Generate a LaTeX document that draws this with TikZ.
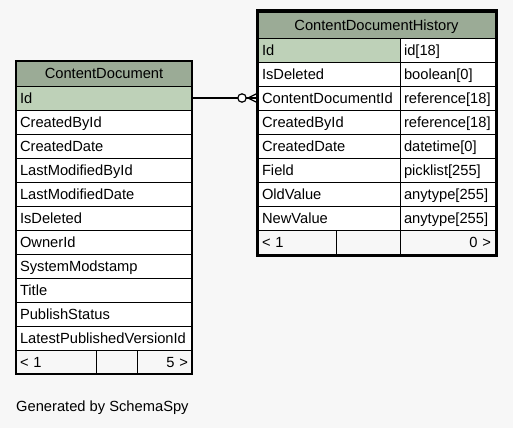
\documentclass[tikz,border=0pt]{standalone}
\usepackage{fontspec}
\setmainfont{Liberation Sans}
\usepackage{xcolor}
\definecolor{headgreen}{HTML}{9BAB96}
\definecolor{keygreen}{HTML}{BED1B8}
\definecolor{bggray}{HTML}{F7F7F7}

\begin{document}
\begin{tikzpicture}[x=1pt,y=-1pt,
    every node/.style={font=\fontsize{14.7}{17}\selectfont},
    cell/.style={draw=black,fill=white,anchor=north west,minimum height=24pt,
      inner xsep=4pt,inner ysep=0pt,outer sep=0pt,align=left,text depth=0pt},
    keycell/.style={cell,fill=keygreen},
    headcell/.style={cell,fill=headgreen,align=center,minimum height=25pt},
    footcell/.style={cell,fill=bggray}]
  \useasboundingbox[fill=bggray] (0,0) rectangle (513,428);

  % ContentDocument
  \node[headcell,text width=168pt] (cd-head) at (16,61) {ContentDocument};
  \node[keycell,text width=168pt] (cd-id) at (16,86) {Id};
  \foreach \f [count=\i] in {CreatedById,CreatedDate,LastModifiedById,
      LastModifiedDate,IsDeleted,OwnerId,SystemModstamp,Title,PublishStatus,
      LatestPublishedVersionId}
    \node[cell,text width=168pt] (cd-\i) at (16,86+24*\i) {\f};
  \node[footcell,text width=72pt] (cd-foot1) at (16,350) {< 1};
  \node[footcell,text width=33pt] (cd-foot2) at (96,350) {};
  \node[footcell,text width=47pt,align=right] (cd-foot3) at (137,350) {5 >};
  \draw[line width=1.5pt] (cd-head.north west) rectangle (cd-foot3.south east);

  % ContentDocumentHistory
  \node[headcell,text width=229pt,minimum height=26pt] (cdh-head) at (258,12) {ContentDocumentHistory};
  \node[keycell,text width=134pt] (cdh-id) at (258,38) {Id};
  \node[cell,text width=87pt] (cdh-idt) at (400,38) {id[18]};
  \foreach \f/\t [count=\i] in {IsDeleted/{boolean[0]},
      ContentDocumentId/{reference[18]},CreatedById/{reference[18]},
      CreatedDate/{datetime[0]},Field/{picklist[255]},OldValue/{anytype[255]},
      NewValue/{anytype[255]}}
  {
    \node[cell,text width=134pt] (cdh-\i) at (258,38+24*\i) {\f};
    \node[cell,text width=87pt] (cdh-\i t) at (400,38+24*\i) {\t};
  }
  \node[footcell,text width=70pt] (cdh-foot1) at (258,230) {< 1};
  \node[footcell,text width=56pt] (cdh-foot2) at (336,230) {};
  \node[footcell,text width=87pt,align=right] (cdh-foot3) at (400,230) {0 >};
  \draw[line width=3pt] ([shift={(-1,-1)}]cdh-head.north west)
    rectangle ([shift={(1,1)}]cdh-foot3.south east);

  % relationship, zero or many
  \draw[line width=1.2pt] (cd-id.east) -- (cdh-2.west);
  \draw[line width=1.2pt] (cdh-2.west) ++(0,-5) -- ++(-10,5) -- ++(10,5);
  \draw[line width=1.2pt,fill=white] (cdh-2.west) ++(-16,0) circle (4.2);

  \node[anchor=west,inner sep=0pt] (credit) at (16,408) {Generated by SchemaSpy};
\end{tikzpicture}
\end{document}
